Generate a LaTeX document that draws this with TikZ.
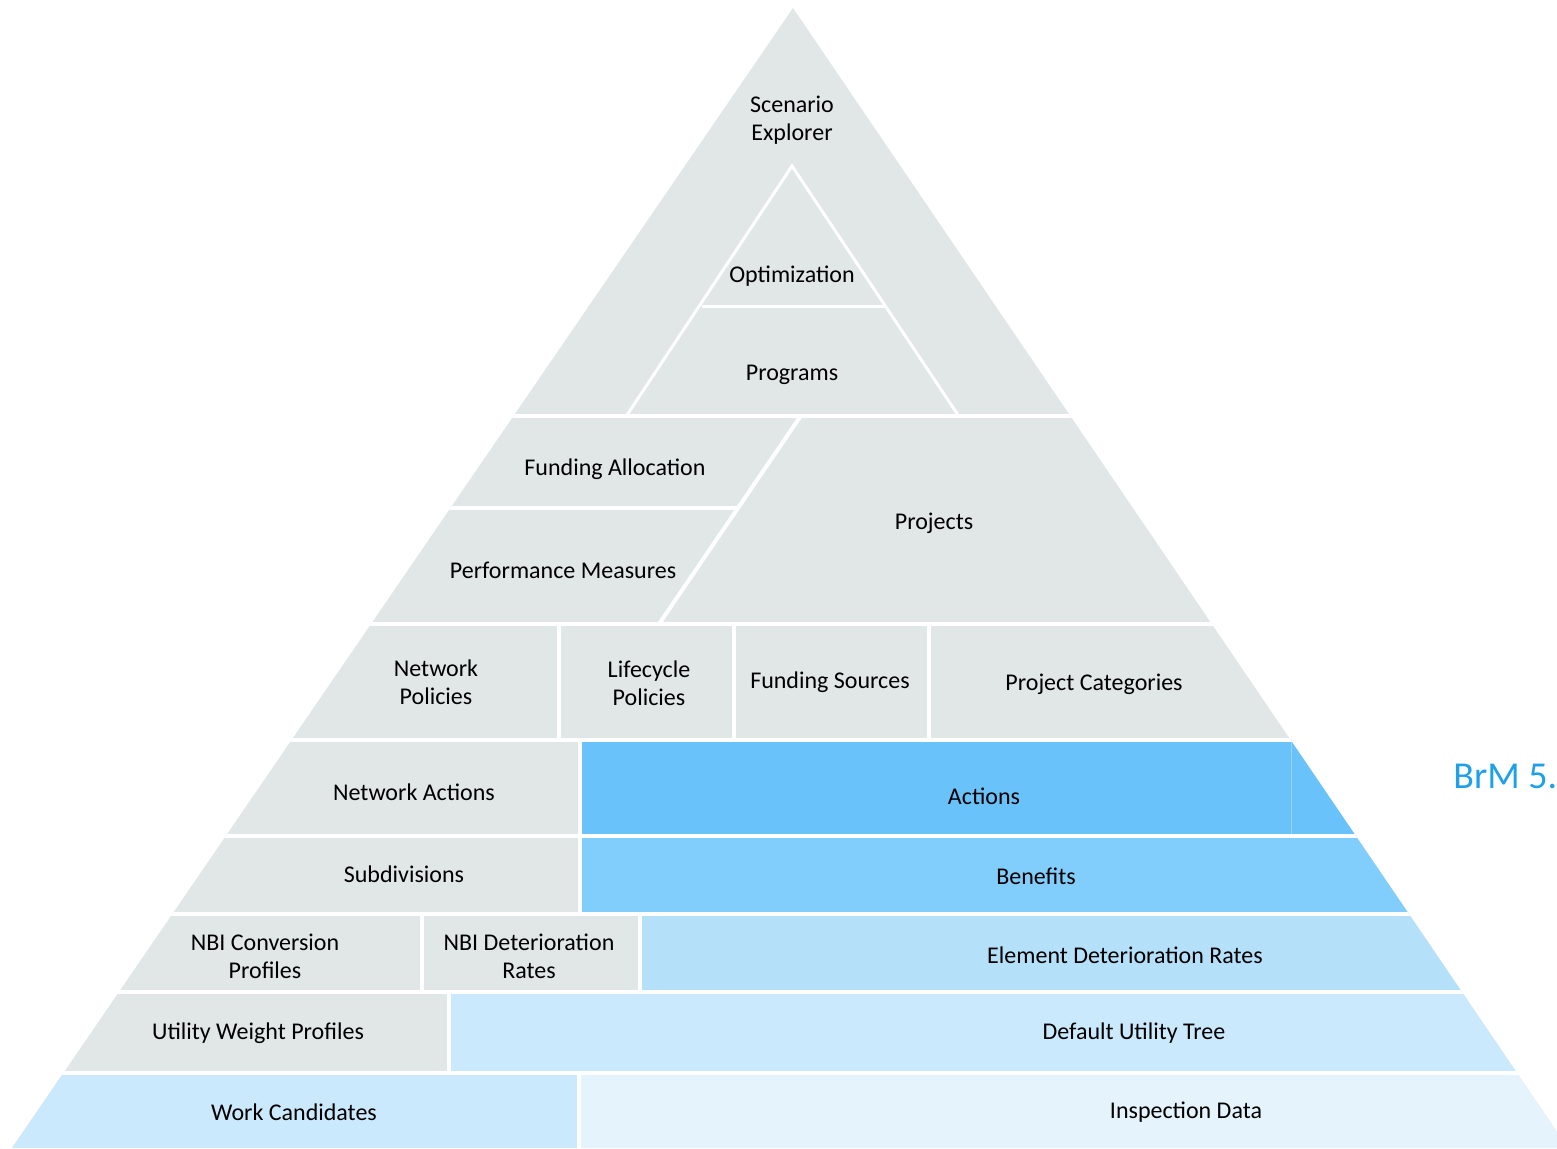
\documentclass[tikz,border=0pt]{standalone}
\usepackage{fontspec}
\setmainfont{Carlito}
\usepackage{xcolor}
\usepackage{tikz}
\definecolor{pgray}{HTML}{E1E6E6}
\definecolor{actblue}{HTML}{69C3FA}
\definecolor{benblue}{HTML}{81CEFC}
\definecolor{detblue}{HTML}{B5E0FA}
\definecolor{utilblue}{HTML}{CBE9FD}
\definecolor{inspblue}{HTML}{E5F3FD}
\definecolor{brmblue}{HTML}{1FA0E8}
\tikzstyle{lbl}=[font=\fontsize{12}{14}\selectfont,align=center,inner sep=0pt,yshift=-1pt]
\tikzstyle{brm}=[font=\fontsize{19}{22}\selectfont,text=brmblue,inner sep=0pt]
\tikzstyle{gap}=[white,line width=2pt]
\tikzstyle{thingap}=[white,line width=1.5pt]

\begin{document}
\begin{tikzpicture}[x=0.5pt,y=-0.5pt]
	\useasboundingbox (0,0) rectangle (1557,1148);
	\begin{scope}
		\clip (793,8) -- (12,1148) -- (1568,1148) -- cycle;
		\fill[pgray]    (0,0) rectangle (1600,1148);
		\fill[actblue]  (579,740) rectangle (1600,835.5);
		\fill[benblue]  (579,835.5) rectangle (1600,914);
		\fill[detblue]  (640,914) rectangle (1600,992);
		\fill[utilblue] (449,992) rectangle (1600,1072.5);
		\fill[utilblue] (0,1072.5) rectangle (579,1148);
		\fill[inspblue] (579,1072.5) rectangle (1600,1148);
		\draw[actblue!70!white,line width=0.4pt] (1291,742) -- (1291,834);
		% band separators
		\foreach \y in {415.5,624,740,835.5,914,992,1072.5}
			\draw[gap] (0,\y) -- (1600,\y);
		\draw[thingap] (627,415) -- (792,166) -- (958,415);
		\draw[thingap] (702,306) -- (885,306);
		\draw[gap] (0,508) -- (738,508);
		\draw[gap] (801,415.5) -- (659,624);
		\foreach \x in {558.5,733.5,928.5}
			\draw[gap] (\x,624) -- (\x,740);
		\draw[gap] (579.5,740) -- (579.5,914);
		\foreach \x in {421.5,640}
			\draw[gap] (\x,914) -- (\x,992);
		\draw[gap] (449,992) -- (449,1072.5);
		\draw[gap] (579,1072.5) -- (579,1148);
	\end{scope}
	\node[lbl] (scen)     at (792,118)  {Scenario\\Explorer};
	\node[lbl] (opt)      at (792,274)  {Optimization};
	\node[lbl] (prog)     at (792,373)  {Programs};
	\node[lbl] (fundall)  at (615,467)  {Funding Allocation};
	\node[lbl] (perf)     at (563,568)  {Performance Measures};
	\node[lbl] (proj)     at (934,521)  {Projects};
	\node[lbl] (netpol)   at (436,680)  {Network\\Policies};
	\node[lbl] (lifepol)  at (649,681)  {Lifecycle\\Policies};
	\node[lbl] (fundsrc)  at (830,680)  {Funding Sources};
	\node[lbl] (projcat)  at (1094,682) {Project Categories};
	\node[lbl] (netact)   at (414,790)  {Network Actions};
	\node[lbl] (actions)  at (984,794)  {Actions};
	\node[lbl] (subdiv)   at (404,872)  {Subdivisions};
	\node[lbl] (benefits) at (1036,874) {Benefits};
	\node[lbl] (nbiconv)  at (265,954)  {NBI Conversion\\Profiles};
	\node[lbl] (nbidet)   at (529,954)  {NBI Deterioration\\Rates};
	\node[lbl] (elemdet)  at (1125,953) {Element Deterioration Rates};
	\node[lbl] (utilw)    at (258,1031) {Utility Weight Profiles};
	\node[lbl] (defutil)  at (1134,1031) {Default Utility Tree};
	\node[lbl] (workc)    at (294,1110) {Work Candidates};
	\node[lbl] (insp)     at (1186,1110) {Inspection Data};
	\node[brm,anchor=base west] (brmver) at (1453,788) {BrM 5.};
\end{tikzpicture}
\end{document}
